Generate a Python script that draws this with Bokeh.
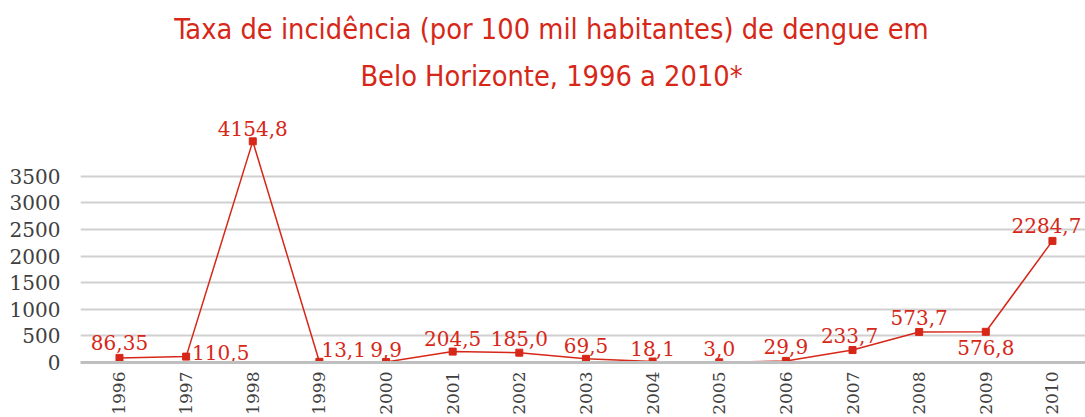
from math import pi
from bokeh.plotting import figure
from bokeh.models import FixedTicker, Label, ColumnDataSource, Range1d
from bokeh.core.properties import value
from bokeh.embed import file_html
from bokeh.resources import INLINE

# ---- data ----
years = [1996, 1997, 1998, 1999, 2000, 2001, 2002, 2003, 2004, 2005, 2006, 2007, 2008, 2009, 2010]
rates = [86.35, 110.5, 4154.8, 13.1, 9.9, 204.5, 185.0, 69.5, 18.1, 3.0, 29.9, 233.7, 573.7, 576.8, 2284.7]
rate_labels = ["86,35", "110,5", "4154,8", "13,1", "9,9", "204,5", "185,0", "69,5", "18,1", "3,0",
               "29,9", "233,7", "573,7", "576,8", "2284,7"]
y_ticks = [0, 500, 1000, 1500, 2000, 2500, 3000, 3500]
title_line1 = "Taxa de incidência (por 100 mil habitantes) de dengue em"
title_line2 = "Belo Horizonte, 1996 a 2010*"

# ---- label placement (style) ----
label_dx = [0, 6, 0, 2, 0, 0, 0, 0, 0, 0, 0, -3, 0, 0, -6]
label_dy = [-15, -4, -13, -12, -12, -13, -14, -13, -13, -14, -14, -15, -14, 16, -15]
label_align = ["center", "left", "center", "left", "center", "center", "center", "center", "center",
               "center", "center", "center", "center", "center", "center"]

RED = "#d62718"
GREY_TXT = "#404040"
SERIF = "DejaVu Serif"
TITLE_FONT = "DejaVu Sans Condensed"

src = ColumnDataSource(dict(x=years, y=rates, t=rate_labels, dx=label_dx, dy=label_dy, al=label_align))

# frame spans the full height above the x axis so that the title lines sit inside it
p = figure(width=1085, height=417, output_backend="svg", toolbar_location=None, title=None,
           x_range=Range1d(1995.415, 2010.496), y_range=Range1d(0, 6801),
           min_border_left=80, min_border_right=0, min_border_top=0, min_border_bottom=54)
p.outline_line_color = None
p.background_fill_color = "white"
p.border_fill_color = "white"

# title lines (screen offsets measured from the plot frame's lower-left corner)
for txt, ypix in ((title_line1, 334), (title_line2, 287)):
    p.add_layout(Label(x=471, y=ypix, x_units="screen", y_units="screen", text=txt,
                       text_align="center", text_baseline="middle", text_font=TITLE_FONT,
                       text_font_size="28.7px", text_color=RED))

p.line("x", "y", source=src, line_color=RED, line_width=1.5)
p.scatter("x", "y", source=src, marker="square", size=7, fill_color=RED, line_color=RED)
p.text("x", "y", text="t", source=src, x_offset="dx", y_offset="dy", text_align="al",
       text_baseline="middle", text_font=value(SERIF), text_font_size="20px",
       text_color=RED)

p.xgrid.grid_line_color = None
p.ygrid.grid_line_color = "#d0d0d0"
p.ygrid.grid_line_width = 2

ya = p.yaxis[0]
ya.ticker = FixedTicker(ticks=y_ticks)
ya.axis_line_color = None
ya.major_tick_line_color = None
ya.minor_tick_line_color = None
ya.major_label_standoff = 14
ya.major_label_text_font = SERIF
ya.major_label_text_font_size = "20px"
ya.major_label_text_color = GREY_TXT

xa = p.xaxis[0]
xa.ticker = FixedTicker(ticks=years)
xa.major_label_orientation = pi / 2
xa.axis_line_color = "#bfbfbf"
xa.axis_line_width = 3
xa.major_tick_line_color = None
xa.minor_tick_line_color = None
xa.major_label_standoff = 3
xa.major_label_text_font = SERIF
xa.major_label_text_font_size = "17px"
xa.major_label_text_color = GREY_TXT

open("out.html", "w").write(file_html(p, INLINE))
